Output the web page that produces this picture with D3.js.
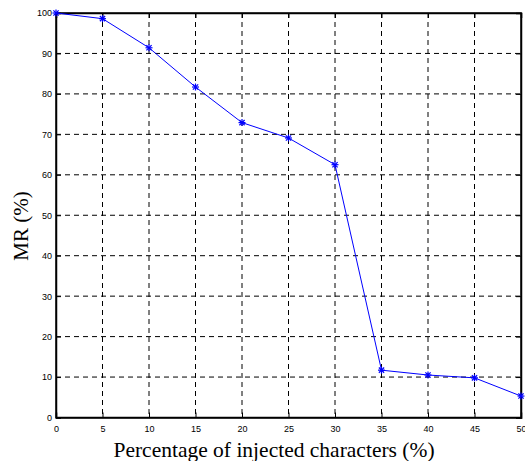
<!DOCTYPE html>
<html><head><meta charset="utf-8">
<script src="https://cdn.jsdelivr.net/npm/d3@7"></script>
<style>body{margin:0;background:#fff}</style>
</head><body><svg id="c" width="525" height="461"></svg>
<script>
const xValues = [0,5,10,15,20,25,30,35,40,45,50];
const mrValues = [100,98.6,91.4,81.7,72.9,69.1,62.5,11.7,10.5,9.8,5.3];
const xTicks = [0,5,10,15,20,25,30,35,40,45,50];
const yTicks = [0,10,20,30,40,50,60,70,80,90,100];

const svg = d3.select("#c");
const L=56,R=521,T=13,B=417.5;
const x = d3.scaleLinear().domain([0,50]).range([L,R]);
const y = d3.scaleLinear().domain([0,100]).range([B,T]);

// grid
const g = svg.append("g");
g.selectAll(".vg").data(xTicks.slice(1,-1)).join("line")
 .attr("x1",d=>x(d)).attr("x2",d=>x(d)).attr("y1",T).attr("y2",B)
 .attr("stroke","#000").attr("stroke-width",1).attr("stroke-dasharray","5,4");
g.selectAll(".hg").data(yTicks.slice(1,-1)).join("line")
 .attr("y1",d=>y(d)).attr("y2",d=>y(d)).attr("x1",L).attr("x2",R)
 .attr("stroke","#000").attr("stroke-width",1).attr("stroke-dasharray","5,4");

// axes
svg.append("g").attr("transform",`translate(0,${B})`)
 .call(d3.axisBottom(x).tickValues(xTicks).tickSize(-5).tickPadding(8));
svg.append("g").attr("transform",`translate(${L},0)`)
 .call(d3.axisLeft(y).tickValues(yTicks).tickSize(-5).tickPadding(4));
svg.append("g").attr("transform",`translate(0,${T})`)
 .call(d3.axisTop(x).tickValues(xTicks).tickSize(-5).tickFormat(""));
svg.append("g").attr("transform",`translate(${R},0)`)
 .call(d3.axisRight(y).tickValues(yTicks).tickSize(-5).tickFormat(""));
svg.selectAll(".domain").attr("stroke","#000").attr("stroke-width",1.5);
svg.selectAll(".tick text").attr("font-family","Liberation Sans, Arial, sans-serif").attr("font-size",9).attr("fill","#000");

// frame
svg.append("rect").attr("x",L).attr("y",T).attr("width",R-L).attr("height",B-T)
 .attr("fill","none").attr("stroke","#000").attr("stroke-width",1.5);

// line
const pts = xValues.map((v,i)=>[v,mrValues[i]]);
svg.append("path").datum(pts)
 .attr("d",d3.line().x(d=>x(d[0])).y(d=>y(d[1])))
 .attr("fill","none").attr("stroke","#0000ff").attr("stroke-width",1);
// asterisk markers
const star = svg.append("g").selectAll("g").data(pts).join("g")
 .attr("transform",d=>`translate(${x(d[0])},${y(d[1])})`);
const s=3.5;
[[0,-s,0,s],[-s,0,s,0],[-s*0.75,-s*0.75,s*0.75,s*0.75],[-s*0.75,s*0.75,s*0.75,-s*0.75]].forEach(c=>{
  star.append("line").attr("x1",c[0]).attr("y1",c[1]).attr("x2",c[2]).attr("y2",c[3])
   .attr("stroke","#0000ff").attr("stroke-width",1.2);
});

// labels
svg.append("text").attr("x",274).attr("y",457).attr("text-anchor","middle")
 .attr("font-family","Liberation Serif, Times New Roman, serif").attr("font-size",21.5)
 .text("Percentage of injected characters (%)");
svg.append("text").attr("transform",`translate(28,226) rotate(-90)`).attr("text-anchor","middle")
 .attr("font-family","Liberation Serif, Times New Roman, serif").attr("font-size",21)
 .text("MR (%)");
</script></body></html>
